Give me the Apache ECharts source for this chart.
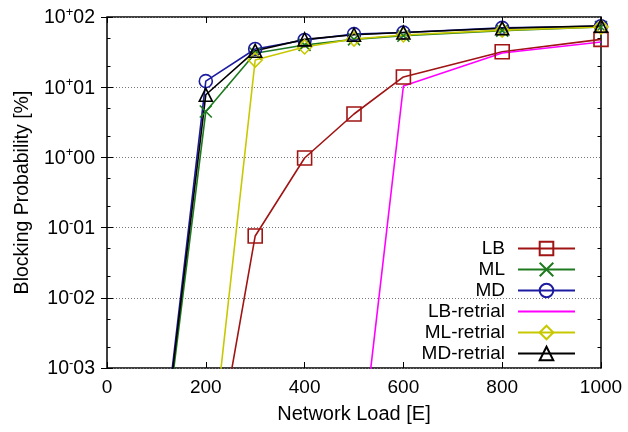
<!DOCTYPE html>
<html>
<head>
<meta charset="utf-8">
<script src="https://cdn.jsdelivr.net/npm/echarts@6/dist/echarts.min.js"></script>
<style>html,body{margin:0;padding:0;background:#fff}#c{width:628px;height:432px}</style>
</head>
<body>
<div id="c"></div>
<script>
const loads = [100, 200, 300, 400, 500, 600, 800, 1000];
const lb = [null, 7.6e-6, 0.076, 0.98, 4.15, 14, 32, 48];
const ml = [1.0e-5, 4.5, 30.5, 40, 48, 54, 64, 72];
const md = [1.15e-5, 12.2, 35, 47, 57, 60, 70, 74];
const lbRetrial = [null, null, null, null, 8.5e-6, 10.4, 30.7, 44];
const mlRetrial = [null, 1.1e-5, 24.4, 37.4, 48.6, 55.5, 65, 72];
const mdRetrial = [1.1e-5, 7.8, 33, 48, 56, 60, 69, 75];
const xTicks = [0, 200, 400, 600, 800, 1000];
const minorY = [0.002, 0.005, 0.02, 0.05, 0.2, 0.5, 2, 5, 20, 50];

const FONT = '"Liberation Sans", Arial, Helvetica, sans-serif';
function pts(arr) {
  return loads.map((x, i) => [x, arr[i]]).filter(p => p[1] !== null);
}
function mk(name, arr, color, symbol, size) {
  return {
    name, type: 'line', data: pts(arr), xAxisIndex: 0, yAxisIndex: 0,
    symbol: symbol, symbolSize: size, showSymbol: symbol !== 'none',
    clip: true,
    lineStyle: { color: color, width: 1.6 },
    itemStyle: { color: 'rgba(255,255,255,0)', borderColor: color, borderWidth: 1.6 },
    emphasis: { disabled: true }
  };
}
const chart = echarts.init(document.getElementById('c'), null, { renderer: 'canvas' });
const yLab = function (v) {
  const e = Math.round(Math.log10(v));
  const s = e >= 0 ? '+' : '-';
  const d = String(Math.abs(e)).padStart(2, '0');
  return '{n|10}{s|' + s + '}{n|' + d + '}';
};
chart.setOption({
  animation: false,
  grid: { left: 107, right: 27, top: 17, bottom: 64, show: true, borderColor: '#000', borderWidth: 1.5, backgroundColor: 'transparent' },
  xAxis: [{
    type: 'value', min: 0, max: 1000, interval: 200,
    name: 'Network Load [E]', nameLocation: 'middle', nameGap: 36,
    nameTextStyle: { fontFamily: FONT, fontSize: 20, color: '#000' },
    axisLine: { show: false },
    axisTick: { show: true, inside: true, length: 6, lineStyle: { color: '#000', width: 1 } },
    axisLabel: { fontFamily: FONT, fontSize: 19, color: '#000', margin: 10, formatter: v => String(v) },
    splitLine: { show: false }
  }, {
    type: 'value', min: 0, max: 1000, interval: 200, position: 'top',
    axisLine: { show: false },
    axisTick: { show: true, inside: true, length: 6, lineStyle: { color: '#000', width: 1 } },
    axisLabel: { show: false }, splitLine: { show: false }
  }],
  yAxis: [{
    type: 'log', logBase: 10, min: 0.001, max: 100,
    name: 'Blocking Probability [%]', nameLocation: 'middle', nameGap: 74, nameRotate: 90,
    nameTextStyle: { fontFamily: FONT, fontSize: 19.5, color: '#000' },
    axisLine: { show: false },
    axisTick: { show: true, inside: true, length: 6, lineStyle: { color: '#000', width: 1 } },
    axisLabel: {
      formatter: yLab, margin: 12,
      rich: {
        n: { fontFamily: FONT, fontSize: 19.5, color: '#000', lineHeight: 22, verticalAlign: 'bottom' },
        s: { fontFamily: FONT, fontSize: 13, color: '#000', lineHeight: 22, verticalAlign: 'top' }
      }
    },
    splitLine: { show: true, lineStyle: { color: '#777', width: 1, type: [1, 2] } }
  }, {
    type: 'log', logBase: 10, min: 0.001, max: 100, position: 'right',
    axisLine: { show: false },
    axisTick: { show: true, inside: true, length: 6, lineStyle: { color: '#000', width: 1 } },
    axisLabel: { show: false }, splitLine: { show: false }
  }, {
    type: 'log', logBase: 10, min: 0.001, max: 100, position: 'left',
    axisLine: { show: false },
    axisTick: { show: true, inside: true, length: 3.5, customValues: minorY, lineStyle: { color: '#000', width: 1 } },
    axisLabel: { show: false, customValues: minorY }, splitLine: { show: false }
  }, {
    type: 'log', logBase: 10, min: 0.001, max: 100, position: 'right',
    axisLine: { show: false },
    axisTick: { show: true, inside: true, length: 3.5, customValues: minorY, lineStyle: { color: '#000', width: 1 } },
    axisLabel: { show: false, customValues: minorY }, splitLine: { show: false }
  }],
  legend: {
    orient: 'vertical', right: 47, top: 234, align: 'right',
    itemWidth: 57, itemHeight: 17, itemGap: 2,
    textStyle: { fontFamily: FONT, fontSize: 19, color: '#000', lineHeight: 19, padding: [0, 8, 0, 0] },
    data: ['LB', 'ML', 'MD',
      { name: 'LB-retrial', itemStyle: { color: 'rgba(0,0,0,0)', borderColor: 'rgba(0,0,0,0)', borderWidth: 0 } },
      'ML-retrial', 'MD-retrial']
  },
  series: [
    mk('LB', lb, '#a01414', 'rect', 14),
    mk('ML', ml, '#1e7a1e', 'path://M0,0L10,10M10,0L0,10', 12),
    mk('MD', md, '#1c1ca0', 'circle', 13),
    mk('LB-retrial', lbRetrial, '#ff00ff', 'none', 0),
    mk('ML-retrial', mlRetrial, '#c8c800', 'diamond', 14),
    mk('MD-retrial', mdRetrial, '#000000', 'triangle', 13)
  ]
});
</script>
</body>
</html>
